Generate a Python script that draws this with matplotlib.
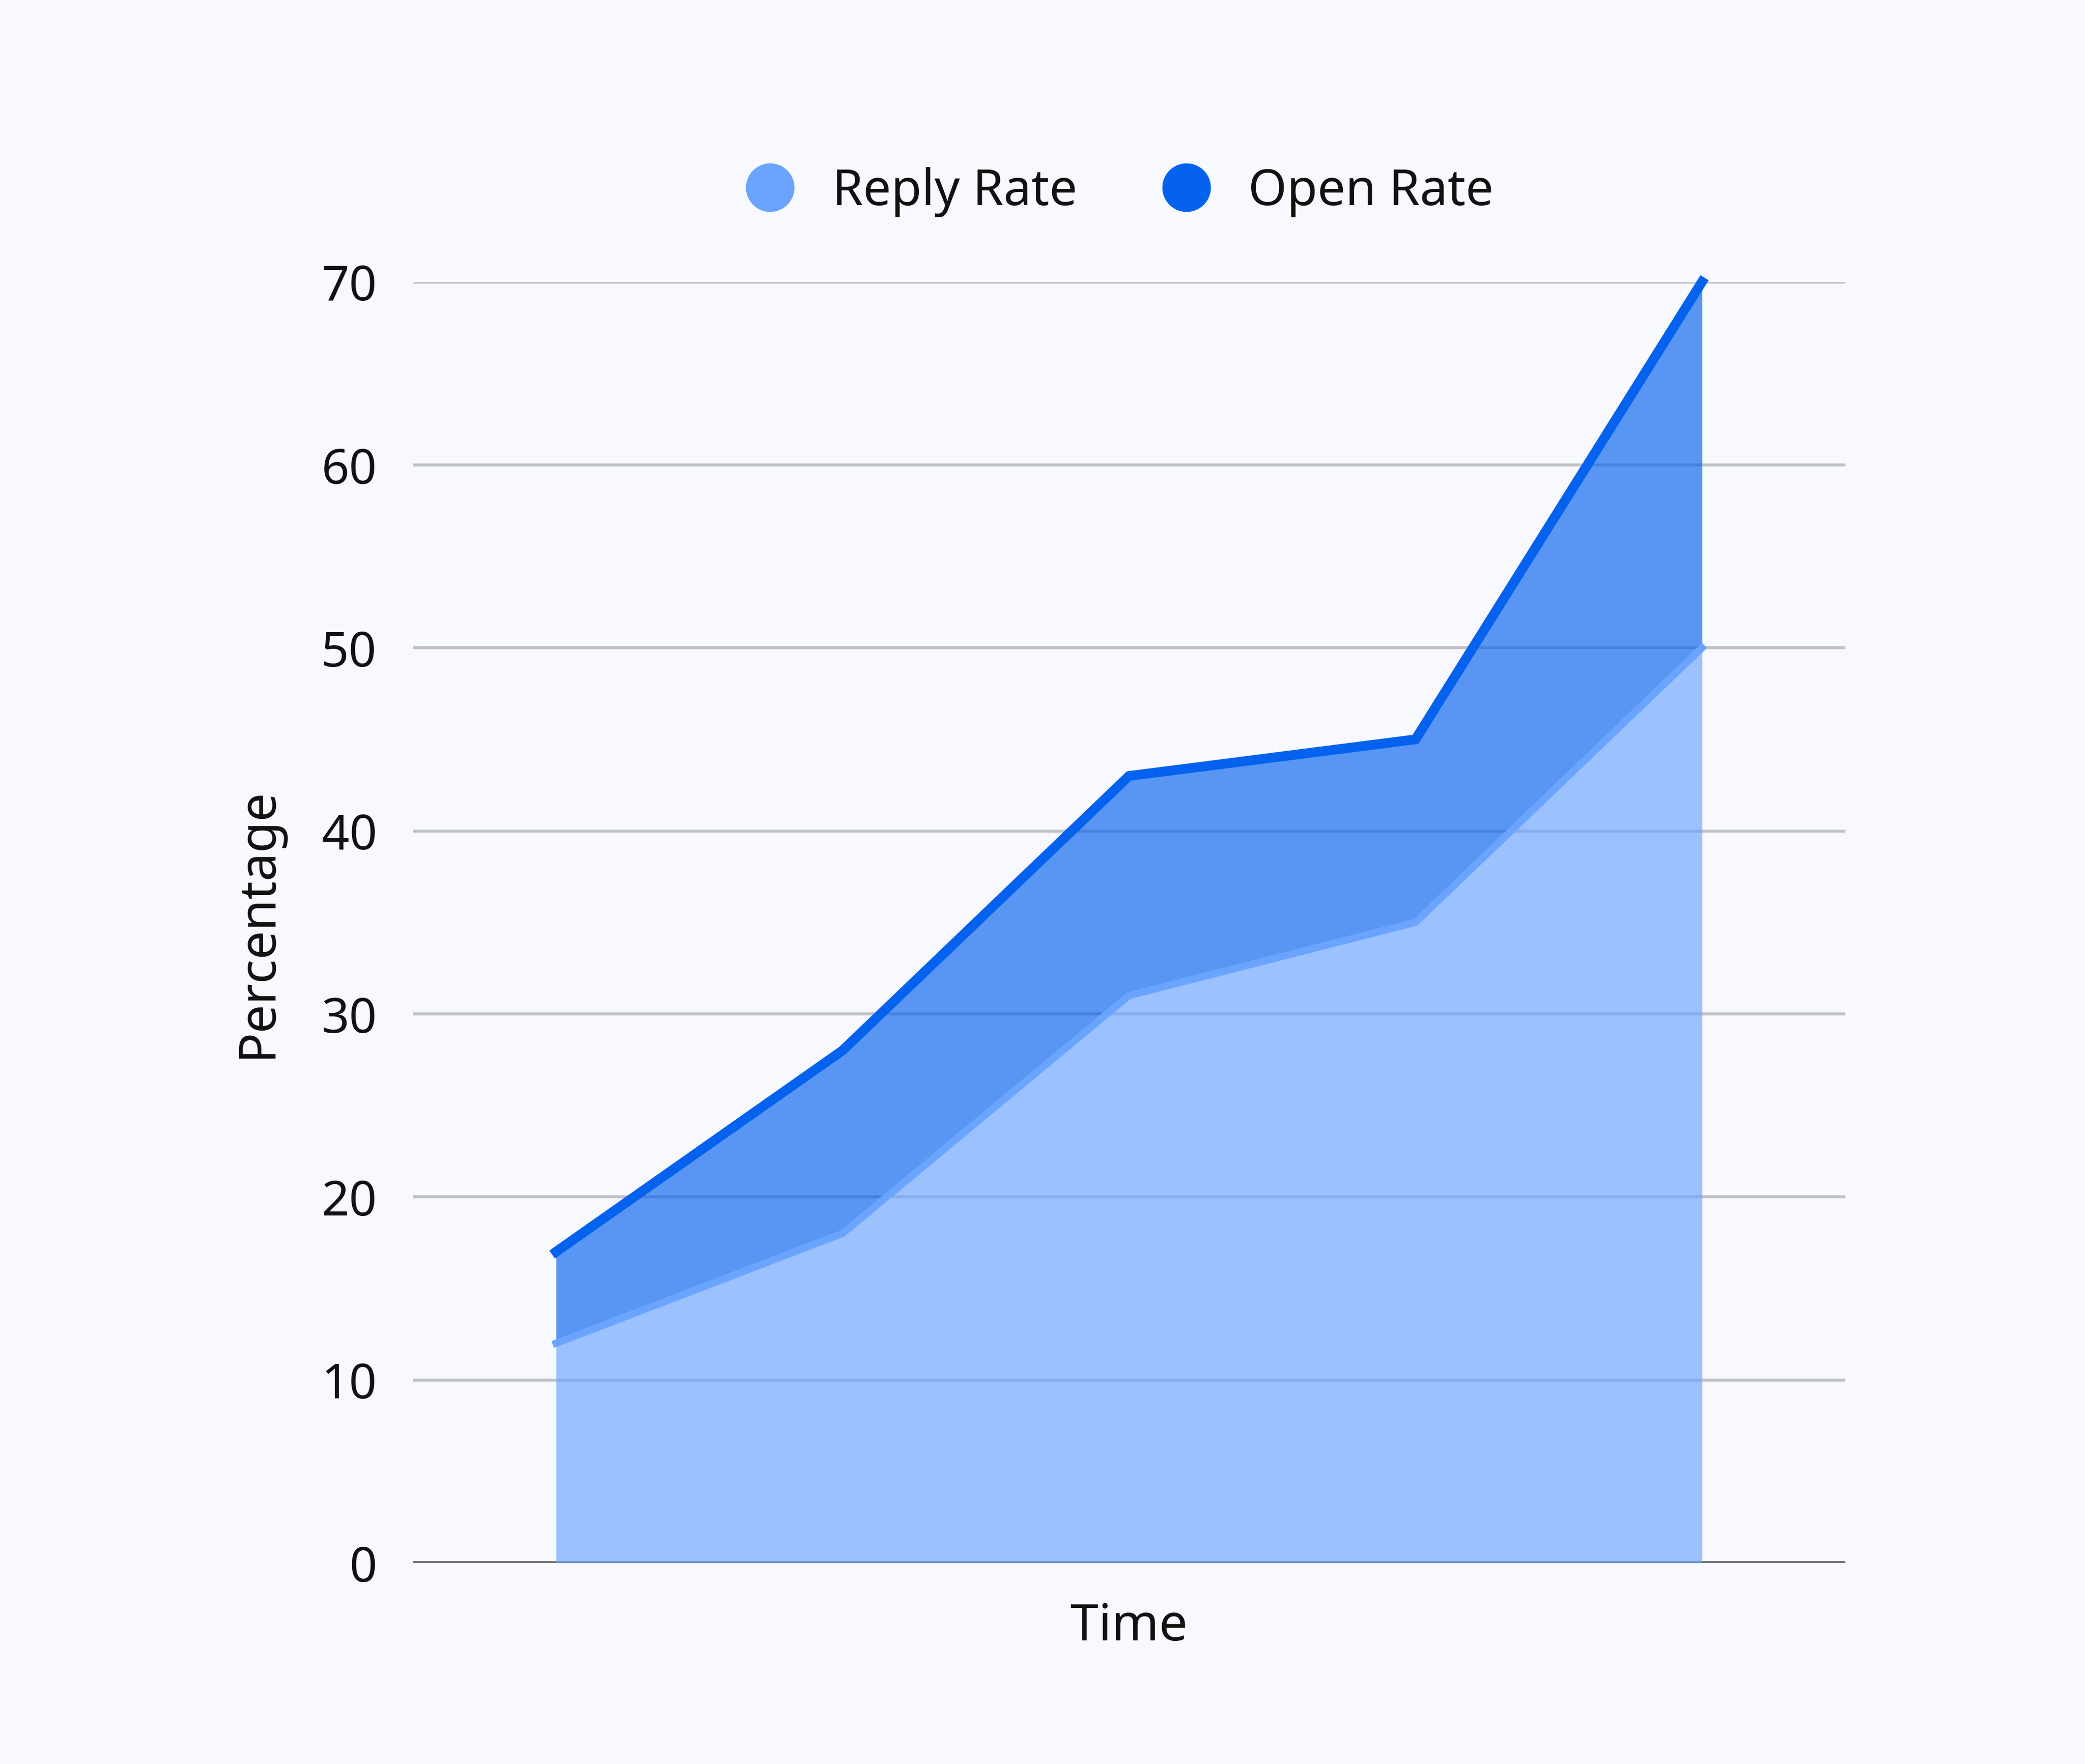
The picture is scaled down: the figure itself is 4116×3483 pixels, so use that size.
import matplotlib.pyplot as plt
from matplotlib.lines import Line2D

plt.rcParams['font.family'] = ['Noto Sans', 'DejaVu Sans']

# Data
periods = [0, 1, 2, 3, 4]
open_rate = [17, 28, 43, 45, 70]
reply_rate = [12, 18, 31, 35, 50]
y_ticks = [0, 10, 20, 30, 40, 50, 60, 70]

bg = '#F7F9FE'
open_col = '#0562EE'
reply_col = '#6AA4FF'

fig = plt.figure(figsize=(13.72, 11.613), dpi=300, facecolor=bg)
ax = fig.add_axes([0.198, 0.114, 0.687, 0.726], facecolor=bg)

# gridlines
for t in y_ticks[1:]:
    ax.axhline(t, color='#BEC0C7', lw=1.4, zorder=1)
ax.axhline(0, color='#6E6F73', lw=1.8, zorder=1)

# areas
ax.fill_between(periods, reply_rate, open_rate, color=open_col, alpha=0.65, lw=0, zorder=2)
ax.fill_between(periods, 0, reply_rate, color=reply_col, alpha=0.65, lw=0, zorder=2)
ax.plot(periods, reply_rate, color=reply_col, lw=3.4, zorder=3, clip_on=False,
        solid_joinstyle='miter')
ax.plot(periods, open_rate, color=open_col, lw=4.6, zorder=4, clip_on=False,
        solid_joinstyle='miter')

ax.set_xlim(-0.5, 4.5)
ax.set_ylim(0, 70)
ax.set_yticks(y_ticks)
ax.set_xticks([])
ax.tick_params(axis='y', length=0, pad=17, labelsize=23, labelcolor='#111111')
for s in ax.spines.values():
    s.set_visible(False)

ax.set_ylabel('Percentage', fontsize=24, color='#111111', labelpad=18)
ax.set_xlabel('Time', fontsize=24, color='#111111', labelpad=18)

handles = [
    Line2D([], [], marker='o', ls='none', markersize=23, markerfacecolor=reply_col,
           markeredgewidth=0, label='Reply Rate'),
    Line2D([], [], marker='o', ls='none', markersize=23, markerfacecolor=open_col,
           markeredgewidth=0, label='Open Rate'),
]
fig.legend(handles=handles, loc='center', bbox_to_anchor=(0.531, 0.891), ncol=2,
           frameon=False, fontsize=23.5, handletextpad=0.25, columnspacing=1.2,
           labelcolor='#111111')

fig.savefig('out.png', dpi=300, facecolor=bg)
